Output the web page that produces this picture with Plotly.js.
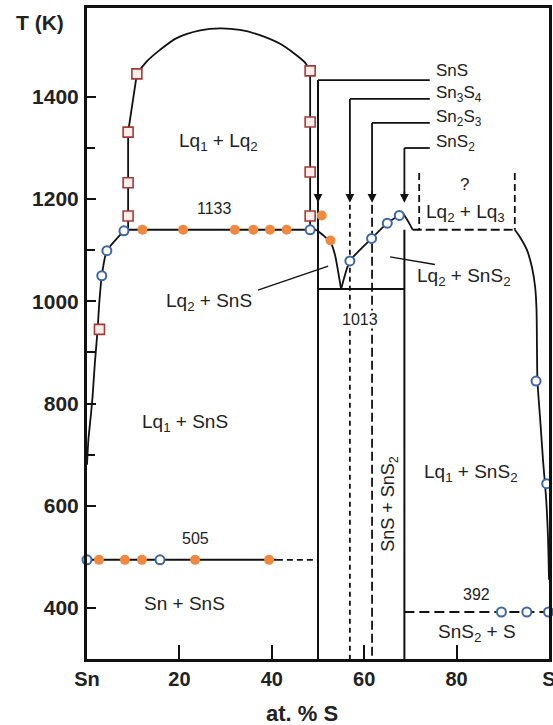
<!DOCTYPE html>
<html>
<head>
<meta charset="utf-8">
<script src="https://cdn.plot.ly/plotly-3.0.1.min.js"></script>
<style>html,body{margin:0;padding:0;background:#fff;}#chart{width:553px;height:725px;}</style>
</head>
<body>
<div id="chart"></div>
<script>
// ---- data (x = at.% S, T in K) ----
const xTickVals = [0, 20, 40, 60, 80, 100];
const xTickText = ['Sn', '20', '40', '60', '80', 'S'];
const yTickVals = [400, 600, 800, 1000, 1200, 1400];
const yMinorVals = [700, 900, 1100, 1300];

// miscibility gap Lq1 + Lq2
const gapLeftX = [8.9, 8.9, 8.9, 8.9, 10.8];
const gapLeftT = [1140, 1167, 1232, 1331, 1445];
const domeX = [10.8, 12.9, 15.8, 19.4, 24.5, 28.8, 33.1, 37.4, 41.8, 45.0, 47.2, 48.3];
const domeT = [1445, 1469, 1492, 1515, 1530, 1534, 1531, 1521, 1504, 1484, 1467, 1451];
const gapRightX = [48.3, 48.3, 48.3, 48.3, 48.3];
const gapRightT = [1451, 1351, 1253, 1167, 1140];

// monotectic 1133 K
const monoX = [8.0, 49.6];
const monoT = [1140, 1140];

// Sn-side liquidus
const liqSnX = [8.0, 4.3, 3.2, 2.6, 2.3, 1.7, 1.2, 0.8, 0.3, 0];
const liqSnT = [1138, 1099, 1050, 990, 945, 879, 813, 774, 729, 680];

// Lq2 liquidus around the 1013 K eutectic
const liqLeftX = [49.6, 51.3, 52.8, 53.7, 54.3, 55.0];
const liqLeftT = [1140, 1128, 1114, 1090, 1061, 1024];
const liqRightX = [55.0, 56.9, 61.6, 65.0, 67.6, 68.4, 69.6, 70.5];
const liqRightT = [1024, 1079, 1123, 1153, 1168, 1171, 1155, 1140];

// eutectic 1013 K
const eut1013X = [50, 68.7];
const eut1013T = [1024, 1024];

// Lq2 + Lq3 box (dashed)
const lq3LineX = [70.5, 92.6];
const lq3LineT = [1140, 1140];
const lq3LeftX = [71.9, 71.9];
const lq3RightX = [92.6, 92.6];
const lq3SideT = [1251, 1140];

// S-side liquidus
const liqSX = [92.6, 93.7, 95.2, 96.3, 97.0, 97.3, 97.4, 97.5, 98.1, 98.7, 99.4, 99.8, 100];
const liqST = [1140, 1126, 1101, 1067, 1028, 983, 905, 844, 768, 690, 611, 533, 455];

// eutectics 505 K and 392 K
const eut505SolidX = [0, 41.1];
const eut505DashX = [41.1, 50];
const eut505T = [494, 494];
const eut392X = [68.7, 100];
const eut392T = [392, 392];

// compounds
const compNames = ['SnS', 'Sn<sub>3</sub>S<sub>4</sub>', 'Sn<sub>2</sub>S<sub>3</sub>', 'SnS<sub>2</sub>'];
const compX = [50, 56.9, 61.7, 68.7];
const compLeaderT = [1433, 1396, 1349, 1300];
const compLabelT = [1452, 1405, 1358, 1309];
const compArrowT = 1193;
const leaderEndX = 74.2;
const tBottom = 300;

// experimental points
const orangeX = [12.0, 20.8, 32.0, 36.0, 39.6, 43.2, 50.8, 52.7, 2.6, 8.2, 11.9, 23.4, 39.4];
const orangeT = [1140, 1140, 1140, 1140, 1140, 1140, 1168, 1119, 494, 494, 494, 494, 494];
const circleX = [8.0, 4.3, 3.2, 48.3, 56.9, 61.6, 65.0, 67.6, 0, 15.8, 97.2, 99.5, 89.7, 95.2, 99.9];
const circleT = [1138, 1099, 1050, 1140, 1079, 1123, 1153, 1168, 494, 494, 844, 643, 392, 392, 392];
const squareX = [10.8, 8.9, 8.9, 8.9, 2.7, 48.3, 48.3, 48.3, 48.3];
const squareT = [1445, 1331, 1232, 1167, 945, 1451, 1351, 1253, 1167];

// leader lines for region labels
const leadLq2SnSX = [37.0, 52.2];
const leadLq2SnST = [1022, 1069];
const leadLq2SnS2X = [65.6, 75.3];
const leadLq2SnS2T = [1087, 1072];

// ---- drawing ----
const INK = '#111';
function line(x, y, opts) {
  opts = opts || {};
  return {
    type: 'scatter', mode: 'lines', x: x, y: y, hoverinfo: 'skip', showlegend: false,
    cliponaxis: false,
    line: {color: INK, width: opts.width || 1.8, dash: opts.dash || 'solid', shape: opts.shape || 'linear', smoothing: opts.smoothing || 1}
  };
}

const traces = [];
traces.push(line(gapLeftX, gapLeftT));
traces.push(line(domeX, domeT, {shape: 'spline', smoothing: 0.8}));
traces.push(line(gapRightX, gapRightT));
traces.push(line(monoX, monoT));
traces.push(line(liqSnX, liqSnT, {shape: 'spline', smoothing: 0.5}));
traces.push(line(liqLeftX, liqLeftT, {shape: 'spline', smoothing: 0.6}));
traces.push(line(liqRightX, liqRightT, {shape: 'spline', smoothing: 0.5}));
traces.push(line(eut1013X, eut1013T, {width: 2}));
traces.push(line(lq3LineX, lq3LineT, {dash: '9px,4px'}));
traces.push(line(lq3LeftX, lq3SideT, {dash: '7px,4px'}));
traces.push(line(lq3RightX, lq3SideT, {dash: '7px,4px'}));
traces.push(line(liqSX, liqST, {shape: 'spline', smoothing: 0.6}));
traces.push(line(eut505SolidX, eut505T, {width: 2}));
traces.push(line(eut505DashX, eut505T, {dash: '6px,4px'}));
traces.push(line(eut392X, eut392T, {dash: '10px,5px'}));
traces.push(line(leadLq2SnSX, leadLq2SnST, {width: 1.4}));
traces.push(line(leadLq2SnS2X, leadLq2SnS2T, {width: 1.4}));

// compound leaders and phase lines
compX.forEach(function (cx, i) {
  traces.push(line([cx, leaderEndX], [compLeaderT[i], compLeaderT[i]], {width: 1.8}));
  traces.push(line([cx, cx], [compLeaderT[i], compArrowT + 10], {width: 1.8}));
});
traces.push(line([compX[0], compX[0]], [compLeaderT[0], tBottom], {width: 2}));
traces.push(line([compX[1], compX[1]], [compArrowT - 4, tBottom], {dash: '5px,4px'}));
traces.push(line([compX[2], compX[2]], [compArrowT - 4, tBottom], {dash: '9px,4px'}));
traces.push(line([compX[3], compX[3]], [1140, tBottom], {width: 2}));

// markers
traces.push({type: 'scatter', mode: 'markers', x: orangeX, y: orangeT, cliponaxis: false, showlegend: false, hoverinfo: 'skip',
  marker: {symbol: 'circle', size: 10, color: '#F0893F', line: {width: 0}}});
traces.push({type: 'scatter', mode: 'markers', x: circleX, y: circleT, cliponaxis: false, showlegend: false, hoverinfo: 'skip',
  marker: {symbol: 'circle', size: 9, color: '#ffffff', line: {width: 2, color: '#3C66A6'}}});
traces.push({type: 'scatter', mode: 'markers', x: squareX, y: squareT, cliponaxis: false, showlegend: false, hoverinfo: 'skip',
  marker: {symbol: 'square', size: 10, color: '#FCEDEB', line: {width: 1.6, color: '#A23B36'}}});

const FONT = 'Liberation Sans, Arial, sans-serif';
function label(x, y, text, size, extra) {
  return Object.assign({x: x, y: y, xref: 'x', yref: 'y', text: text, showarrow: false,
    font: {family: FONT, size: size || 18, color: '#222'}}, extra || {});
}

const annotations = [
  label(28.4, 1312, 'Lq<sub>1</sub> + Lq<sub>2</sub>', 19),
  label(27.5, 1181, '1133', 16),
  label(26.4, 999, 'Lq<sub>2</sub> + SnS', 19),
  label(21.2, 762, 'Lq<sub>1</sub> + SnS', 19),
  label(21.1, 408, 'Sn + SnS', 19),
  label(23.4, 535, '505', 16),
  label(59.1, 964, '1013', 16, {bgcolor: '#ffffff', borderpad: 0}),
  label(65.6, 604, 'SnS + SnS<sub>2</sub>', 18, {textangle: -90}),
  label(83.2, 664, 'Lq<sub>1</sub> + SnS<sub>2</sub>', 19),
  label(84.3, 427, '392', 16),
  label(84.4, 351, 'SnS<sub>2</sub> + S', 19),
  label(81.6, 1048, 'Lq<sub>2</sub> + SnS<sub>2</sub>', 19),
  label(81.8, 1228, '?', 17),
  label(82.0, 1173, 'Lq<sub>2</sub> + Lq<sub>3</sub>', 19),
  {xref: 'paper', yref: 'paper', x: -0.102, y: 0.977, xanchor: 'center', yanchor: 'middle', text: 'T (K)', showarrow: false,
    font: {family: FONT, size: 21, color: '#222', weight: 'bold'}},
  {xref: 'paper', yref: 'paper', x: 0.4645, y: -0.083, xanchor: 'center', yanchor: 'middle', text: 'at. % S', showarrow: false,
    font: {family: FONT, size: 22, color: '#222', weight: 'bold'}}
];
compNames.forEach(function (name, i) {
  annotations.push(label(leaderEndX + 1.0, compLabelT[i], name, 17, {xanchor: 'left'}));
  annotations.push({x: compX[i], y: compArrowT, xref: 'x', yref: 'y', axref: 'x', ayref: 'y',
    ax: compX[i], ay: compArrowT + 25, text: '', showarrow: true, arrowhead: 2, arrowsize: 1.1,
    arrowwidth: 1.6, arrowcolor: INK});
});

const layout = {
  width: 553, height: 725,
  margin: {l: 87, r: 4, t: 8, b: 66},
  paper_bgcolor: '#ffffff', plot_bgcolor: '#ffffff',
  showlegend: false,
  xaxis: {range: [0, 100], tickvals: xTickVals, ticktext: xTickText, ticks: 'inside', ticklen: 14, tickwidth: 2,
    tickcolor: INK, showline: true, linewidth: 3, linecolor: INK, mirror: true, showgrid: false, zeroline: false,
    ticklabelstandoff: 0, ticklabeloverflow: 'allow',
    tickfont: {family: FONT, size: 20, color: '#222', weight: 'bold'}},
  yaxis: {range: [300, 1574], tickvals: yTickVals, ticks: 'inside', ticklen: 9, tickwidth: 2,
    tickcolor: INK, showline: true, linewidth: 3, linecolor: INK, mirror: true, showgrid: false, zeroline: false,
    ticklabelstandoff: 1, ticklabeloverflow: 'allow',
    minor: {tickvals: yMinorVals, ticks: 'inside', ticklen: 8, tickwidth: 2, tickcolor: INK, showgrid: false},
    tickfont: {family: FONT, size: 21, color: '#222', weight: 'bold'}},
  annotations: annotations
};

Plotly.newPlot('chart', traces, layout, {staticPlot: true, displayModeBar: false});
</script>
</body>
</html>
